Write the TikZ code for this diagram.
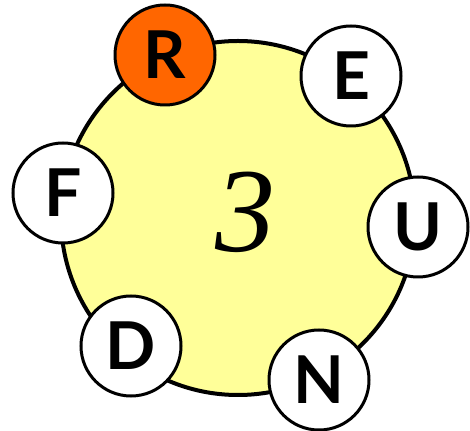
\documentclass[tikz,border=0pt]{standalone}
\usepackage{fontspec}
\newfontfamily\letterfont{Lato}
\newfontfamily\numfont{Liberation Serif}
\definecolor{bigyellow}{HTML}{FFFF99}
\definecolor{rorange}{HTML}{FF6600}
\begin{document}
\begin{tikzpicture}[x=1pt,y=1pt,
  letter/.style={circle, draw=black, line width=3pt, fill=white, minimum size=100pt, inner sep=0pt,
    font=\letterfont\bfseries\fontsize{66}{66}\selectfont},
  bigcircle/.style={circle, draw=black, line width=4pt, fill=bigyellow, minimum size=354pt, inner sep=0pt}]
\useasboundingbox (0,0) rectangle (470,430);
\node[bigcircle] (big) at (238,212) {};
\node[font=\numfont\itshape\fontsize{120}{120}\selectfont] (three) at (245,218) {3};
\node[letter, fill=rorange] (R) at (165,375) {R};
\node[letter] (E) at (351,354) {E};
\node[letter] (F) at (63,237) {F};
\node[letter] (U) at (418,203) {U};
\node[letter] (D) at (131,84) {D};
\node[letter] (N) at (319,50) {N};
\end{tikzpicture}
\end{document}
